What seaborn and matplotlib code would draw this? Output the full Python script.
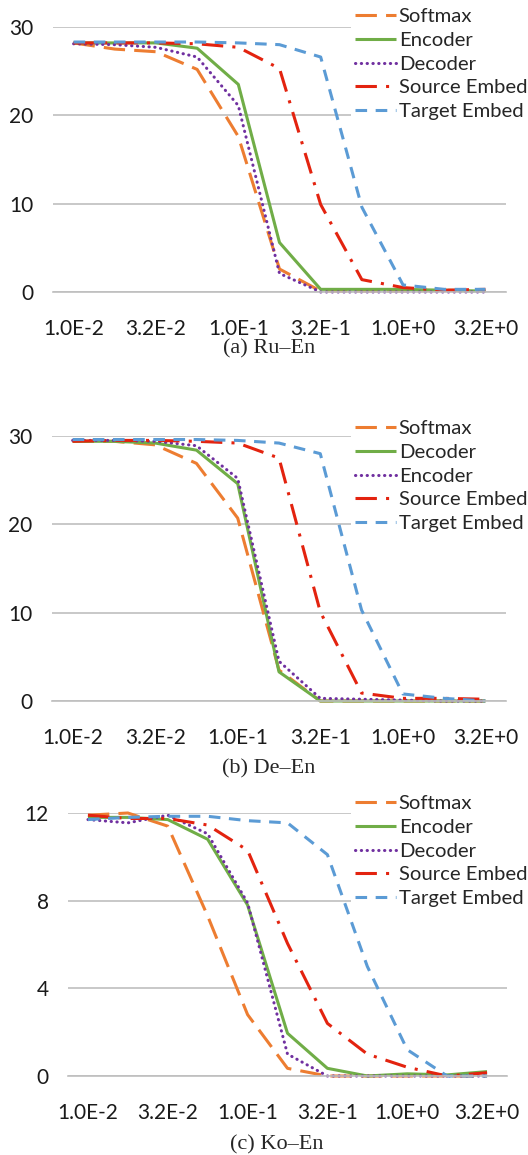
import numpy as np
import pandas as pd
import seaborn as sns
import matplotlib.pyplot as plt

# x categories (log-spaced rates), labels shown on every other tick
steps = list(range(11))
x_labels = ['1.0E-2', '', '3.2E-2', '', '1.0E-1', '', '3.2E-1', '', '1.0E+0', '', '3.2E+0']

# (a) Ru-En
ru_names = ['Softmax', 'Encoder', 'Decoder', 'Source Embed', 'Target Embed']
ru_softmax = [28.2, 27.5, 27.2, 25.2, 17.6, 2.6, 0.1, 0.1, 0.1, 0.2, 0.1]
ru_encoder = [28.2, 28.2, 28.2, 27.6, 23.5, 5.6, 0.3, 0.3, 0.3, 0.2, 0.1]
ru_decoder = [28.1, 28.0, 27.7, 26.6, 21.1, 2.1, 0.0, 0.0, 0.0, 0.0, 0.0]
ru_source = [28.2, 28.2, 28.2, 28.1, 27.7, 25.3, 9.9, 1.4, 0.5, 0.2, 0.3]
ru_target = [28.3, 28.3, 28.3, 28.3, 28.2, 28.0, 26.6, 9.6, 0.8, 0.3, 0.3]

# (b) De-En
de_names = ['Softmax', 'Decoder', 'Encoder', 'Source Embed', 'Target Embed']
de_softmax = [29.4, 29.4, 29.0, 26.9, 20.7, 3.5, 0.0, 0.0, 0.0, 0.0, 0.0]
de_decoder = [29.4, 29.4, 29.2, 28.4, 24.6, 3.3, 0.0, 0.0, 0.0, 0.0, 0.0]
de_encoder = [29.5, 29.5, 29.4, 28.9, 25.2, 4.5, 0.3, 0.2, 0.1, 0.0, 0.0]
de_source = [29.4, 29.5, 29.5, 29.4, 29.2, 27.5, 10.1, 0.9, 0.3, 0.3, 0.2]
de_target = [29.6, 29.6, 29.6, 29.6, 29.5, 29.2, 28.0, 10.3, 0.8, 0.3, 0.0]

# (c) Ko-En
ko_names = ['Softmax', 'Encoder', 'Decoder', 'Source Embed', 'Target Embed']
ko_softmax = [11.9, 12.0, 11.4, 7.3, 2.8, 0.35, 0.0, 0.0, 0.0, 0.0, 0.0]
ko_encoder = [11.8, 11.8, 11.7, 10.8, 7.8, 1.95, 0.35, 0.0, 0.1, 0.05, 0.2]
ko_decoder = [11.7, 11.55, 11.9, 11.05, 7.9, 1.0, 0.0, 0.0, 0.0, 0.0, 0.0]
ko_source = [11.9, 11.75, 11.75, 11.45, 10.3, 6.05, 2.4, 1.0, 0.4, 0.0, 0.15]
ko_target = [11.7, 11.8, 11.85, 11.85, 11.65, 11.55, 10.1, 5.0, 1.2, 0.0, 0.0]

# line look by legend slot
slot_colors = ['#ED7D31', '#70AD47', '#7030A0', '#E3230F', '#5B9BD5']
slot_styles = [(0, (7, 3)), '-', (0, (0.1, 1.8)), (0, (7, 3, 1, 3)), (0, (3.8, 2.8))]

sns.set_style('white')
plt.rcParams['font.family'] = ['Lato', 'DejaVu Sans']

W, H = 528, 1155
fig = plt.figure(figsize=(W / 100, H / 100), dpi=100)

panels = [
    ('(a) Ru\u2013En', ru_names, [ru_softmax, ru_encoder, ru_decoder, ru_source, ru_target],
     [0, 10, 20, 30], (53, 506, 27, 292), (351, 4), 349),
    ('(b) De\u2013En', de_names, [de_softmax, de_decoder, de_encoder, de_source, de_target],
     [0, 10, 20, 30], (52, 506, 436, 701), (351, 416), 769),
    ('(c) Ko\u2013En', ko_names, [ko_softmax, ko_encoder, ko_decoder, ko_source, ko_target],
     [0, 4, 8, 12], (68, 507, 813, 1076), (351, 791), 1145),
]

for caption, names, series, yticks, (l, r, t, b), (lx, ly), cap_y in panels:
    ax = fig.add_axes([l / W, 1 - b / H, (r - l) / W, (b - t) / H])
    for i, (name, vals) in enumerate(zip(names, series)):
        sns.lineplot(x=steps, y=vals, ax=ax, color=slot_colors[i], linestyle=slot_styles[i],
                     linewidth=2.2, label=name, dash_capstyle='round' if i == 2 else 'butt',
                     solid_capstyle='butt', clip_on=False)
    ax.set_xlim(-0.5, 10.5)
    ax.set_ylim(yticks[0], yticks[-1])
    ax.set_yticks(yticks)
    ax.set_xticks(steps + [10.5])
    ax.set_xticklabels(x_labels + [''])
    ax.set_xlabel('')
    ax.set_ylabel('')
    ax.yaxis.grid(True, color='#BFBFBF', linewidth=1.2)
    ax.set_axisbelow(True)
    for s in ['top', 'right', 'left']:
        ax.spines[s].set_visible(False)
    ax.spines['bottom'].set_color('#BFBFBF')
    ax.spines['bottom'].set_linewidth(1.2)
    ax.tick_params(axis='x', direction='inout', length=9, width=1.2, color='#BFBFBF',
                   labelsize=15, pad=15, labelcolor='#1a1a1a')
    ax.tick_params(axis='y', length=0, labelsize=15, pad=14, labelcolor='#1a1a1a')
    leg = ax.legend(loc='upper left', bbox_to_anchor=(lx / W, 1 - ly / H),
                    bbox_transform=fig.transFigure, fontsize=14.6, frameon=True,
                    facecolor='white', edgecolor='none', fancybox=False, framealpha=1,
                    handlelength=2.0, handletextpad=0.15, labelspacing=0.32,
                    borderpad=0.2, borderaxespad=0)
    leg.set_zorder(5)
    fig.text((l + r) / 2 / W - 0.02, 1 - cap_y / H, caption, ha='center', va='center',
             fontsize=16, family='Liberation Serif')

fig.savefig('out.png', dpi=100)
